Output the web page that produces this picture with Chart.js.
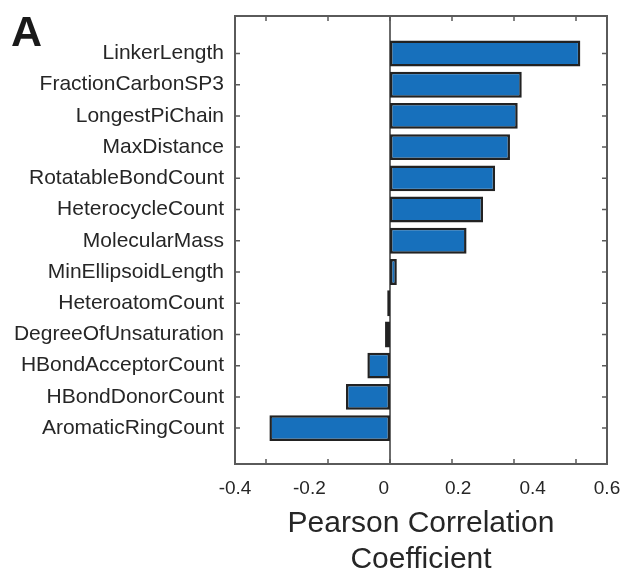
<!DOCTYPE html>
<html>
<head>
<meta charset="utf-8">
<script src="https://cdn.jsdelivr.net/npm/chart.js@4.4.1/dist/chart.umd.min.js"></script>
<style>
    html, body { margin: 0; padding: 0; background: #fff; }
    #wrap { position: relative; width: 623px; height: 575px; }
    #panel {
        position: absolute; left: 11px; top: 10px;
        font: bold 43px/43px "Liberation Sans", Arial, sans-serif;
        color: #1a1a1a;
    }
</style>
</head>
<body>
<div id="wrap">
    <canvas id="corrChart" width="623" height="575"></canvas>
    <div id="panel">A</div>
</div>
<script>
const descriptors = [
    "LinkerLength", "FractionCarbonSP3", "LongestPiChain", "MaxDistance",
    "RotatableBondCount", "HeterocycleCount", "MolecularMass", "MinEllipsoidLength",
    "HeteroatomCount", "DegreeOfUnsaturation", "HBondAcceptorCount",
    "HBondDonorCount", "AromaticRingCount"
];
const pearsonR = [
    0.614, 0.425, 0.412, 0.387, 0.339, 0.300, 0.247, 0.022,
    -0.009, -0.016, -0.073, -0.142, -0.389
];
const xTickLabels = [-0.4, -0.2, 0, 0.2, 0.4, 0.6];

const textColor = "#262626";
const boxColor = "#5a5a5a";

// box, inward tick marks and the zero line, like the original figure
const axesBox = {
    id: "axesBox",
    beforeDatasetsDraw(chart) {
        const { ctx, chartArea: a, scales } = chart;
        const x0 = scales.x.getPixelForValue(0);
        ctx.save();
        ctx.strokeStyle = "#3a3a3a";
        ctx.lineWidth = 1.5;
        ctx.beginPath();
        ctx.moveTo(x0, a.top);
        ctx.lineTo(x0, a.bottom);
        ctx.stroke();
        ctx.restore();
    },
    afterDatasetsDraw(chart) {
        const { ctx, chartArea: a, scales } = chart;
        const len = 5;
        ctx.save();
        ctx.strokeStyle = boxColor;
        ctx.lineWidth = 1.5;
        ctx.beginPath();
        xTickLabels.forEach(v => {
            const px = scales.x.getPixelForValue(v);
            ctx.moveTo(px, a.bottom); ctx.lineTo(px, a.bottom - len);
            ctx.moveTo(px, a.top); ctx.lineTo(px, a.top + len);
        });
        descriptors.forEach((d, i) => {
            const py = scales.y.getPixelForValue(i + 1);
            ctx.moveTo(a.left, py); ctx.lineTo(a.left + len, py);
            ctx.moveTo(a.right, py); ctx.lineTo(a.right - len, py);
        });
        ctx.stroke();
        ctx.lineWidth = 2;
        ctx.strokeRect(a.left, a.top, a.right - a.left, a.bottom - a.top);
        ctx.restore();
    }
};

const ctx = document.getElementById("corrChart");
new Chart(ctx, {
    type: "bar",
    data: {
        datasets: [{
            data: pearsonR.map((r, i) => ({ x: r, y: i + 1 })),
            backgroundColor: "#1770BC",
            borderColor: "#222222",
            borderWidth: 2.5,
            borderSkipped: false,
            categoryPercentage: 1,
            barPercentage: 0.83
        }]
    },
    options: {
        indexAxis: "y",
        responsive: false,
        animation: false,
        layout: { padding: { top: 16, right: 16, left: 0, bottom: 0 } },
        plugins: { legend: { display: false }, tooltip: { enabled: false } },
        scales: {
            x: {
                type: "linear",
                min: -0.5,
                max: 0.7,
                display: false
            },
            x2: {
                type: "linear",
                position: "bottom",
                min: -0.4,
                max: 0.6,
                grid: { display: false, drawTicks: false },
                border: { display: false },
                afterBuildTicks: s => { s.ticks = xTickLabels.map(v => ({ value: v })); },
                afterFit: s => {
                    s.height = 111;
                    s.paddingLeft = 0;
                    s.paddingRight = 0;
                },
                ticks: {
                    padding: 13,
                    color: textColor,
                    font: { family: "'Liberation Sans', Arial, sans-serif", size: 19 },
                    callback: v => String(Math.round(v * 10) / 10)
                },
                title: {
                    display: true,
                    text: ["Pearson Correlation", "Coefficient"],
                    color: textColor,
                    padding: { top: 0, bottom: -3 },
                    font: { family: "'Liberation Sans', Arial, sans-serif", size: 30, lineHeight: 1.2 }
                }
            },
            y: {
                type: "linear",
                reverse: true,
                offset: false,
                min: -0.2,
                max: 14.15,
                grid: { display: false, drawTicks: false, offset: false },
                border: { display: false },
                afterBuildTicks: s => { s.ticks = descriptors.map((d, i) => ({ value: i + 1 })); },
                afterFit: s => {
                    s.width = 235;
                    s.paddingTop = 0;
                    s.paddingBottom = 0;
                },
                ticks: {
                    autoSkip: false,
                    padding: 11,
                    color: textColor,
                    font: { family: "'Liberation Sans', Arial, sans-serif", size: 21 },
                    callback: v => descriptors[v - 1]
                }
            }
        }
    },
    plugins: [axesBox]
});
</script>
</body>
</html>
